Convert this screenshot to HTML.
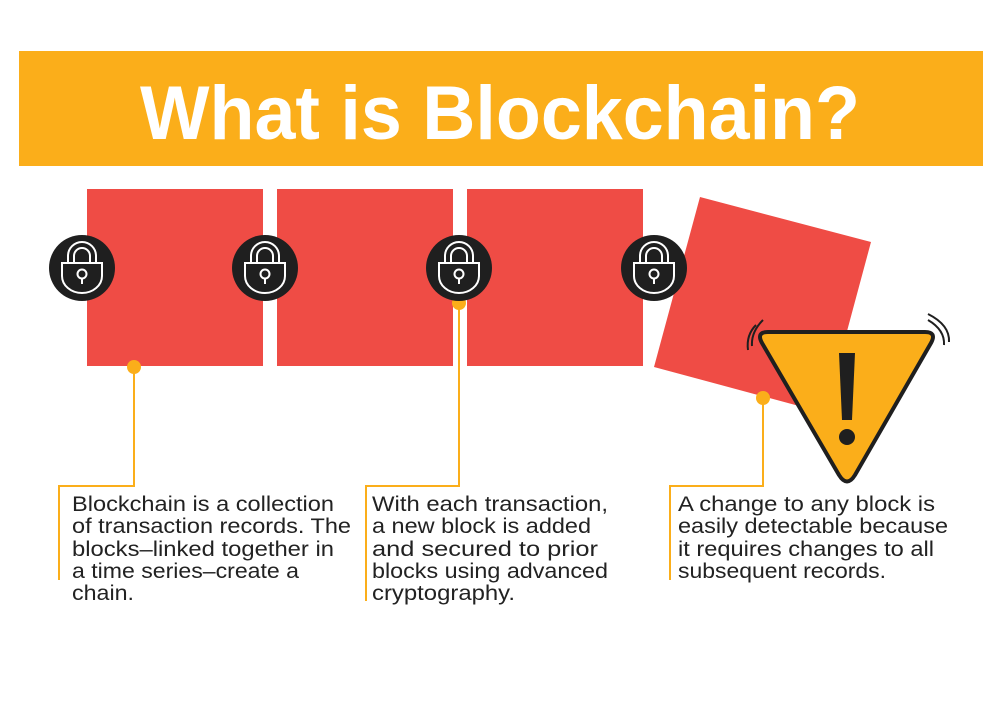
<!DOCTYPE html>
<html><head><style>body{margin:0;background:#fff}svg{display:block}</style></head><body>
<svg width="1000" height="707" viewBox="0 0 1000 707" xmlns="http://www.w3.org/2000/svg" font-family="Liberation Sans, sans-serif">
<rect width="1000" height="707" fill="#fff"/>
<rect x="19" y="51" width="964" height="115" fill="#fbae1a"/>
<text x="500" y="139" text-anchor="middle" font-size="76" font-weight="bold" fill="#fff" textLength="720" lengthAdjust="spacingAndGlyphs">What is Blockchain?</text>
<g fill="#ef4c45">
<rect x="87" y="189" width="176" height="177"/>
<rect x="277" y="189" width="176" height="177"/>
<rect x="467" y="189" width="176" height="177"/>
<polygon points="700,197 871,242 825,413 654,367"/>
</g>
<g stroke="#fbae1a" stroke-width="2" fill="none">
<polyline points="134,367 134,486 59,486 59,580"/>
<polyline points="459,303 459,486 366,486 366,601"/>
<polyline points="763,398 763,486 670,486 670,580"/>
</g>
<g fill="#fbae1a"><circle cx="134" cy="367" r="7"/><circle cx="459" cy="303" r="7"/><circle cx="763" cy="398" r="7"/></g>
<defs><g id="lk">
<circle r="33" fill="#1f1f1f"/>
<path d="M-14,-5 V-12 A14,14 0 0 1 14,-12 V-5 M-8,-5 V-12 A8,8 0 0 1 8,-12 V-5" stroke="#fff" stroke-width="2" fill="none"/>
<path d="M-20,-5 H20 V8 A20,17 0 0 1 -20,8 Z" stroke="#fff" stroke-width="2" fill="none"/>
<circle cy="6" r="4.5" stroke="#fff" stroke-width="2" fill="none"/>
<line x1="0" y1="10.5" x2="0" y2="16" stroke="#fff" stroke-width="2"/>
</g></defs>
<use href="#lk" x="82" y="268"/><use href="#lk" x="265" y="268"/><use href="#lk" x="459" y="268"/><use href="#lk" x="654" y="268"/>
<path d="M768,332 H925 Q937,332 931,343 L855,475 Q847,488 839,475 L762,343 Q756,332 768,332 Z" fill="#fbae1a" stroke="#1f1f1f" stroke-width="4" stroke-linejoin="round"/>
<polygon points="839,353 855,353 852,420 842,420" fill="#1f1f1f"/>
<circle cx="847" cy="437" r="8" fill="#1f1f1f"/>
<g stroke="#1f1f1f" stroke-width="2" fill="none">
<path d="M756,325 Q746,335 748,350"/><path d="M763,320 Q751,332 752,346"/>
<path d="M928,320 Q945,330 944,345"/><path d="M928,314 Q950,325 949,342"/>
</g>
<g font-size="21" fill="#222" lengthAdjust="spacingAndGlyphs">
<text x="72" y="511" textLength="262" lengthAdjust="spacingAndGlyphs">Blockchain is a collection</text>
<text x="72" y="533" textLength="279" lengthAdjust="spacingAndGlyphs">of transaction records. The</text>
<text x="72" y="556" textLength="262" lengthAdjust="spacingAndGlyphs">blocks–linked together in</text>
<text x="72" y="578" textLength="227" lengthAdjust="spacingAndGlyphs">a time series–create a</text>
<text x="72" y="600" textLength="62" lengthAdjust="spacingAndGlyphs">chain.</text>
<text x="372" y="511" textLength="236" lengthAdjust="spacingAndGlyphs">With each transaction,</text>
<text x="372" y="533" textLength="219" lengthAdjust="spacingAndGlyphs">a new block is added</text>
<text x="372" y="556" textLength="226" lengthAdjust="spacingAndGlyphs">and secured to prior</text>
<text x="372" y="578" textLength="236" lengthAdjust="spacingAndGlyphs">blocks using advanced</text>
<text x="372" y="600" textLength="143" lengthAdjust="spacingAndGlyphs">cryptography.</text>
<text x="678" y="511" textLength="257" lengthAdjust="spacingAndGlyphs">A change to any block is</text>
<text x="678" y="533" textLength="270" lengthAdjust="spacingAndGlyphs">easily detectable because</text>
<text x="678" y="556" textLength="256" lengthAdjust="spacingAndGlyphs">it requires changes to all</text>
<text x="678" y="578" textLength="208" lengthAdjust="spacingAndGlyphs">subsequent records.</text>
</g>
</svg>
</body></html>
